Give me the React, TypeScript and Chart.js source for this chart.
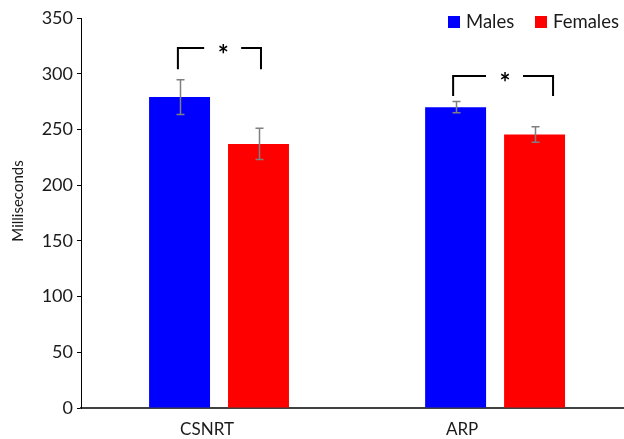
import React, { useEffect, useRef } from 'react';
import { Chart, registerables } from 'chart.js';

Chart.register(...registerables);

const categories = ['CSNRT', 'ARP'];
const malesMean = [279, 270];
const malesErr = [15.5, 5];
const femalesMean = [237, 245.5];
const femalesErr = [14, 7];
const seriesNames = ['Males', 'Females'];
const seriesColors = ['#0000FF', '#FF0000'];
const yMin = 0;
const yMax = 350;
const yStep = 50;
const yTitle = 'Milliseconds';
// significance brackets (value units)
const bracketTop = [323, 298];
const bracketBottom = [304, 280];
const sigLabels = ['*', '*'];

const FONT = 'Lato, "Open Sans", sans-serif';

const overlayPlugin = {
  id: 'overlay',
  afterDatasetsDraw(chart: any) {
    const { ctx, chartArea } = chart;
    const xs = chart.scales.x;
    const ys = chart.scales.y;
    const catW = xs.getPixelForValue(1) - xs.getPixelForValue(0);
    const errs = [malesErr, femalesErr];
    const means = [malesMean, femalesMean];
    ctx.save();
    // error bars
    ctx.strokeStyle = '#7f7f7f';
    ctx.lineWidth = 1.5;
    for (let d = 0; d < 2; d++) {
      const meta = chart.getDatasetMeta(d);
      meta.data.forEach((el: any, i: number) => {
        const x = Math.round(el.x) + 0.5;
        const yT = ys.getPixelForValue(means[d][i] + errs[d][i]);
        const yB = ys.getPixelForValue(means[d][i] - errs[d][i]);
        ctx.beginPath();
        ctx.moveTo(x, yT);
        ctx.lineTo(x, yB);
        ctx.moveTo(x - 4, yT);
        ctx.lineTo(x + 4, yT);
        ctx.moveTo(x - 4, yB);
        ctx.lineTo(x + 4, yB);
        ctx.stroke();
      });
    }
    // brackets
    const leftFrac = [-0.149, -0.152];
    const rightFrac = [0.152, 0.21];
    const starFrac = [0.015, 0.036];
    ctx.strokeStyle = '#000';
    ctx.lineWidth = 2;
    for (let i = 0; i < categories.length; i++) {
      const cx = xs.getPixelForValue(i);
      const xl = cx + leftFrac[i] * catW;
      const xr = cx + rightFrac[i] * catW;
      const xsStar = cx + starFrac[i] * catW;
      const yt = ys.getPixelForValue(bracketTop[i]);
      const yb = ys.getPixelForValue(bracketBottom[i]);
      ctx.beginPath();
      ctx.moveTo(xl, yb);
      ctx.lineTo(xl, yt);
      ctx.lineTo(xsStar - 19, yt);
      ctx.moveTo(xsStar + 18, yt);
      ctx.lineTo(xr, yt);
      ctx.lineTo(xr, yb);
      ctx.stroke();
      ctx.fillStyle = '#000';
      ctx.font = 'bold 26px ' + FONT;
      ctx.textAlign = 'center';
      ctx.textBaseline = 'middle';
      ctx.fillText(sigLabels[i], xsStar, yt + 8);
    }
    // x category labels
    const labelShift = [-12, -33];
    ctx.fillStyle = '#1a1a1a';
    ctx.font = '17px ' + FONT;
    ctx.textAlign = 'center';
    ctx.textBaseline = 'middle';
    categories.forEach((c, i) => {
      ctx.fillText(c, xs.getPixelForValue(i) + labelShift[i], chartArea.bottom + 22);
    });
    // y title
    ctx.save();
    ctx.translate(18, 201);
    ctx.rotate(-Math.PI / 2);
    ctx.font = '15px ' + FONT;
    ctx.fillText(yTitle, 0, 0);
    ctx.restore();
    // legend
    ctx.font = '18.5px ' + FONT;
    ctx.textAlign = 'left';
    ctx.textBaseline = 'middle';
    const legendX = [448, 535];
    for (let k = 0; k < 2; k++) {
      ctx.fillStyle = seriesColors[k];
      ctx.fillRect(legendX[k], 16, 12, 12);
      ctx.fillStyle = '#1a1a1a';
      ctx.fillText(seriesNames[k], legendX[k] + 18, 22);
    }
    ctx.restore();
  },
};

export default function App() {
  const ref = useRef<HTMLCanvasElement | null>(null);
  useEffect(() => {
    document.body.style.margin = '0';
    const canvas = ref.current!;
    const chart = new Chart(canvas, {
      type: 'bar',
      data: {
        datasets: [
          {
            label: seriesNames[0],
            data: malesMean.map((v, i) => ({ x: i, y: v })),
            backgroundColor: seriesColors[0],
            categoryPercentage: 0.572,
            barPercentage: 0.772,
          },
          {
            label: seriesNames[1],
            data: femalesMean.map((v, i) => ({ x: i, y: v })),
            backgroundColor: seriesColors[1],
            categoryPercentage: 0.572,
            barPercentage: 0.772,
          },
        ],
      },
      options: {
        animation: false,
        responsive: false,
        layout: { padding: { top: 18, right: 0, bottom: 0, left: 0 } },
        plugins: { legend: { display: false }, tooltip: { enabled: false } },
        scales: {
          x: {
            type: 'linear',
            min: -0.5,
            max: 1.467,
            offset: false,
            grid: { display: false },
            border: { display: true, color: '#404040', width: 2 },
            ticks: { display: false },
            afterBuildTicks: (s: any) => {
              s.ticks = categories.map((_, i) => ({ value: i }));
            },
            afterFit: (s: any) => {
              s.height = 31;
            },
          },
          y: {
            min: yMin,
            max: yMax,
            grid: {
              display: true,
              drawOnChartArea: false,
              drawTicks: true,
              tickLength: 4,
              color: '#000',
            },
            border: { display: true, color: '#000', width: 1 },
            ticks: {
              stepSize: yStep,
              color: '#1a1a1a',
              font: { family: FONT, size: 18 },
              padding: 4,
            },
            afterFit: (s: any) => {
              s.width = 81;
            },
          },
        },
      },
      plugins: [overlayPlugin],
    });
    return () => chart.destroy();
  }, []);
  return (
    <div style={{ width: 624, height: 439 }}>
      <canvas ref={ref} width={624} height={439} style={{ display: 'block' }} />
    </div>
  );
}
